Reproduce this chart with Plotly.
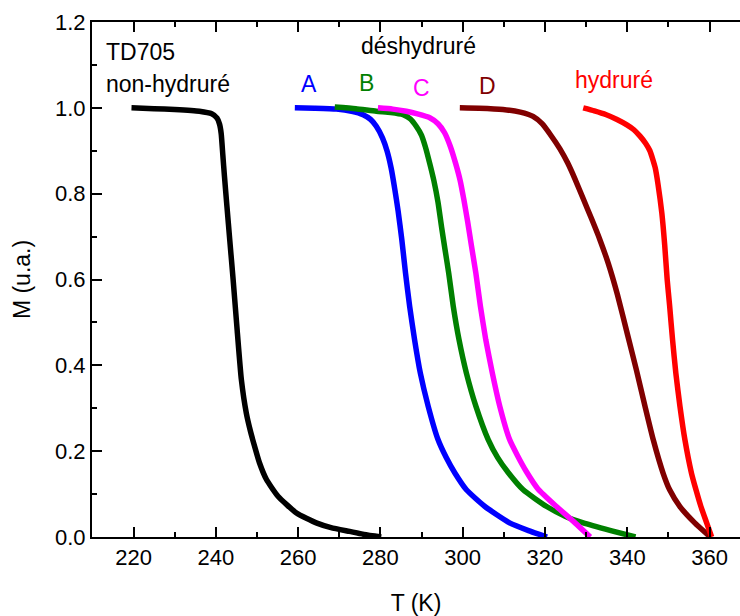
import plotly.graph_objects as go

# ---- data ----
T_nonhyd = [219.5, 225, 230, 236, 239, 240.3, 240.9, 241.3, 241.7, 242.1, 242.7, 243.4, 244.2, 245.2, 246.2,
            247.4, 248.4, 249.4, 250.6, 252.3, 255.1, 259.6, 264.4, 268, 272.5, 276, 280.2]
M_nonhyd = [1.0, 0.998, 0.996, 0.992, 0.986, 0.976, 0.962, 0.94, 0.89, 0.84, 0.77, 0.69, 0.6, 0.48, 0.367,
            0.289, 0.247, 0.212, 0.173, 0.134, 0.095, 0.056, 0.033, 0.022, 0.013, 0.006, 0.0]

T_A = [259.2, 264, 269.3, 273, 275.8, 277.6, 279, 280.5, 281.6, 282.6, 283.5, 284.3, 285.2, 286.1, 287.1, 288.3,
       289.7, 291.6, 294.0, 296.0, 298.1, 300.9, 305.4, 311.4, 316, 320.5]
M_A = [1.0, 0.999, 0.997, 0.992, 0.984, 0.973, 0.957, 0.93, 0.9, 0.86, 0.81, 0.76, 0.693, 0.615, 0.538, 0.46,
       0.382, 0.305, 0.227, 0.185, 0.149, 0.110, 0.071, 0.033, 0.015, 0.0]

T_B = [268.9, 274, 279, 282.5, 285.5, 287.3, 288.7, 290.0, 290.9, 292.0, 293.0, 294.0, 294.9, 295.7, 296.6, 297.7,
       299.1, 300.9, 303.2, 306.2, 308.5, 311.0, 314.7, 320.4, 325.0, 329.3, 336, 342]
M_B = [1.002, 0.998, 0.992, 0.989, 0.984, 0.974, 0.957, 0.936, 0.91, 0.87, 0.83, 0.78, 0.72, 0.67, 0.615, 0.538,
       0.460, 0.382, 0.305, 0.227, 0.185, 0.151, 0.110, 0.071, 0.048, 0.033, 0.015, 0.0]

T_C = [279.4, 283, 286.3, 289, 292, 294, 295.6, 297, 298.3, 299.4, 300.3, 301.2, 302.1, 303.2, 304.3, 305.6,
       307.2, 309.0, 311.4, 313.3, 315.5, 318.3, 322.8, 327.3, 331]
M_C = [1.0, 0.997, 0.992, 0.986, 0.977, 0.963, 0.942, 0.91, 0.87, 0.83, 0.785, 0.735, 0.68, 0.615, 0.538, 0.460,
       0.382, 0.305, 0.227, 0.19, 0.152, 0.112, 0.071, 0.033, 0.0]

T_D = [299.3, 304, 309.8, 314, 317.1, 319.3, 321.5, 323.6, 325.5, 327.3, 329.3, 331.3, 333.3, 335.4, 337.6,
       340.1, 342.2, 344.3, 346.3, 348.7, 350.3, 352.8, 356.4, 360.2]
M_D = [1.0, 0.999, 0.996, 0.99, 0.98, 0.963, 0.935, 0.905, 0.872, 0.834, 0.788, 0.742, 0.694, 0.637, 0.565,
       0.47, 0.39, 0.305, 0.227, 0.149, 0.110, 0.071, 0.033, 0.0]

T_hyd = [329.3, 332, 334.9, 337.5, 339.8, 341.6, 343.1, 344.4, 345.5, 346.2, 346.8, 347.5, 348.4, 349.1, 349.7,
         350.3, 351.0, 351.8, 352.8, 354.0, 355.6, 356.7, 357.9, 359.3, 360.5]
M_hyd = [1.0, 0.993, 0.984, 0.973, 0.961, 0.949, 0.934, 0.918, 0.9, 0.88, 0.86, 0.82, 0.755, 0.68, 0.6,
         0.538, 0.46, 0.382, 0.305, 0.227, 0.149, 0.110, 0.071, 0.033, 0.0]

series = [
    (T_nonhyd, M_nonhyd, "#000000"),
    (T_A, M_A, "#0000FF"),
    (T_B, M_B, "#008000"),
    (T_C, M_C, "#FF00FF"),
    (T_D, M_D, "#800000"),
    (T_hyd, M_hyd, "#FF0000"),
]

labels = [
    ("TD705", 212.9, 1.131, "#000000", "left"),
    ("non-hydruré", 212.9, 1.055, "#000000", "left"),
    ("déshydruré", 289.3, 1.145, "#000000", "center"),
    ("A", 262.6, 1.055, "#0000FF", "center"),
    ("B", 276.6, 1.057, "#008000", "center"),
    ("C", 290.0, 1.047, "#FF00FF", "center"),
    ("D", 306.0, 1.050, "#800000", "center"),
    ("hydruré", 336.8, 1.065, "#FF0000", "center"),
]

x_ticks = [220, 240, 260, 280, 300, 320, 340, 360]
y_ticks = [0.0, 0.2, 0.4, 0.6, 0.8, 1.0, 1.2]

FONT = "Liberation Sans, Arial, sans-serif"

fig = go.Figure()
for T, M, c in series:
    fig.add_trace(go.Scatter(x=T, y=M, mode="lines",
                             line=dict(color=c, width=5.5, shape="spline", smoothing=0.5),
                             showlegend=False, hoverinfo="skip"))

for txt, x, y, c, anc in labels:
    fig.add_annotation(x=x, y=y, text=txt, showarrow=False, xanchor=anc, yanchor="middle",
                       font=dict(family=FONT, size=23, color=c))

fig.update_xaxes(range=[209.9, 367.4], tickvals=x_ticks, ticktext=[str(v) for v in x_ticks],
                 ticks="inside", ticklen=10, tickwidth=1.5, tickcolor="black",
                 showline=True, linecolor="black", linewidth=2, mirror="ticks",
                 minor=dict(ticks="inside", ticklen=5, tickwidth=1.5, tickcolor="black", dtick=10, showgrid=False),
                 showgrid=False, zeroline=False, automargin=False,
                 tickfont=dict(family=FONT, size=22, color="black"),
                 title=dict(text="T (K)", font=dict(family=FONT, size=23, color="black"), standoff=26))
fig.update_yaxes(range=[0, 1.2], tickvals=y_ticks, ticktext=["%.1f" % v for v in y_ticks],
                 ticks="inside", ticklen=10, tickwidth=1.5, tickcolor="black",
                 showline=True, linecolor="black", linewidth=2,
                 minor=dict(ticks="inside", ticklen=5, tickwidth=1.5, tickcolor="black", dtick=0.1, showgrid=False),
                 showgrid=False, zeroline=False, automargin=False,
                 tickfont=dict(family=FONT, size=22, color="black"),
                 title=dict(text="M (u.a.)", font=dict(family=FONT, size=23, color="black"), standoff=18))

fig.update_layout(width=740, height=616, margin=dict(l=92, r=0, t=22, b=79),
                  plot_bgcolor="white", paper_bgcolor="white")

fig.write_html("out.html", config={"displayModeBar": False},
               post_script="document.body.style.margin='0';document.body.style.padding='0';")
